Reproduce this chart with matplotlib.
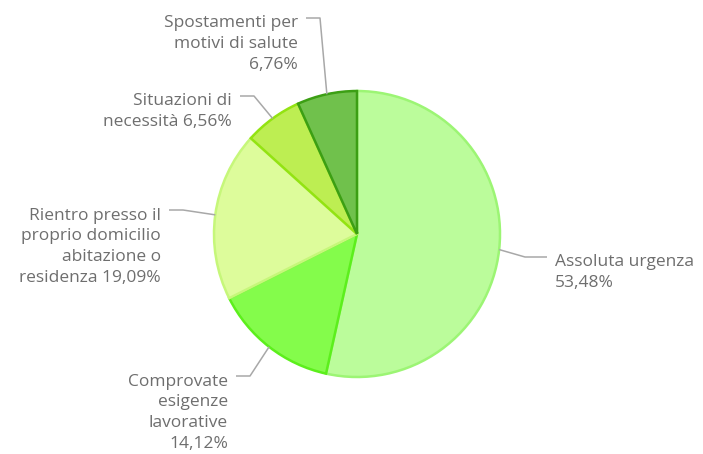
import numpy as np
import matplotlib.pyplot as plt

labels = ['Assoluta urgenza', 'Comprovate\nesigenze\nlavorative',
          'Rientro presso il\nproprio domicilio\nabitazione o\nresidenza',
          'Situazioni di\nnecessità', 'Spostamenti per\nmotivi di salute']
shares = [53.48, 14.12, 19.09, 6.56, 6.76]
# last line break before the percentage (space = same line)
pct_sep = ['\n', '\n', ' ', ' ', '\n']
fills = ['#bbfc9b', '#84fc4b', '#ddfc9b', '#bdee52', '#70c14c']
edges = ['#9cf574', '#5cef1c', '#c6f77a', '#93e312', '#3c9f14']

W, H, DPI = 703, 454, 100
cx, cy, R = 357, 234, 143  # pie centre and radius in pixels
LINE = 21  # line pitch of the labels, px

# first-line baseline of each label (px), alignment
label_pos = [(555, 266, 'left'), (228, 385, 'right'), (161, 219, 'right'),
             (232, 105, 'right'), (298, 27, 'right')]


def px(x, y):
    return (x - cx) / R, (cy - y) / R


fig = plt.figure(figsize=(W / DPI, H / DPI), dpi=DPI)
ax = fig.add_axes([0, 0, 1, 1])

wedges, _ = ax.pie(shares, colors=fills, startangle=90, counterclock=False,
                   radius=1, wedgeprops=dict(linewidth=1.8))
for w, ec in zip(wedges, edges):
    w.set_edgecolor(ec)

# pie() resets the limits, so fix them afterwards
ax.set_xlim(-cx / R, (W - cx) / R)
ax.set_ylim(-(H - cy) / R, cy / R)
ax.set_aspect('equal')
ax.axis('off')

for w, lab, val, sep, (tx, ty, ha) in zip(wedges, labels, shares, pct_sep, label_pos):
    mid = np.deg2rad((w.theta1 + w.theta2) / 2)
    ax0, ay0 = np.cos(mid), np.sin(mid)
    txt = lab + sep + f'{val:.2f}%'.replace('.', ',')
    # 'baseline' anchors the last line, so shift down by the extra lines
    x, y = px(tx, ty + LINE * txt.count('\n'))
    ax.text(x, y, txt, ha=ha, va='baseline', fontsize=12.5, color='#6e6e6e',
            family='Open Sans', linespacing=1.4)
    # leader: from slice edge to a short horizontal stub next to the text
    gap = 8 if ha == 'right' else -8
    stub = 14 if ha == 'right' else -22
    ly = ty - 9
    x1, y1 = px(tx + gap, ly)
    x2, y2 = px(tx + gap + stub, ly)
    ax.plot([x1, x2, ax0], [y1, y2, ay0], color='#a8a8a8', lw=1.1,
            solid_capstyle='butt')

fig.savefig('out.png', dpi=DPI, facecolor='white')
